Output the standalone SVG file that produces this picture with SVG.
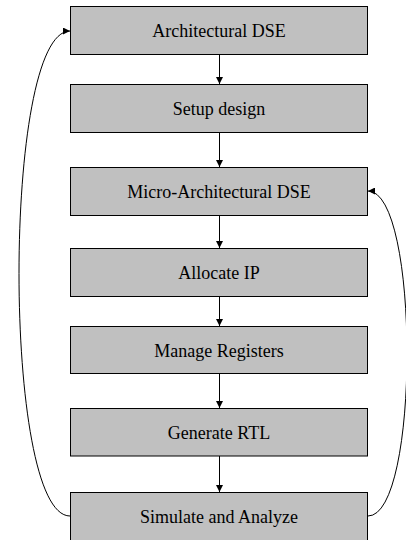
<svg xmlns="http://www.w3.org/2000/svg" width="406" height="540" viewBox="0 0 406 540">
<defs>
<style>
.box{fill:#c0c0c0;stroke:#000;stroke-width:1}
.lbl{font-family:"Liberation Serif","Times New Roman",serif;font-size:18px;fill:#000;text-anchor:middle}
.edge{fill:none;stroke:#000;stroke-width:1}
</style>
<marker id="ah" viewBox="0 0 10 10" refX="10" refY="5" markerWidth="7" markerHeight="7" markerUnits="userSpaceOnUse" orient="auto">
<path d="M0,0 L10,5 L0,10 Z" fill="#000"/>
</marker>
</defs>
<rect width="406" height="540" fill="#fff"/>
<g id="n1"><rect class="box" x="70.5" y="6.5" width="297" height="48"/><text class="lbl" x="219" y="37">Architectural DSE</text></g>
<g id="n2"><rect class="box" x="70.5" y="84.5" width="297" height="48"/><text class="lbl" x="219" y="115">Setup design</text></g>
<g id="n3"><rect class="box" x="70.5" y="167.5" width="297" height="48"/><text class="lbl" x="219" y="198">Micro-Architectural DSE</text></g>
<g id="n4"><rect class="box" x="70.5" y="248.5" width="297" height="48"/><text class="lbl" x="219" y="279">Allocate IP</text></g>
<g id="n5"><rect class="box" x="70.5" y="326.5" width="297" height="47"/><text class="lbl" x="219" y="357">Manage Registers</text></g>
<g id="n6"><rect class="box" x="70.5" y="408.5" width="297" height="47.5"/><text class="lbl" x="219" y="439">Generate RTL</text></g>
<g id="n7"><rect class="box" x="70.5" y="492.5" width="297" height="48"/><text class="lbl" x="219" y="523">Simulate and Analyze</text></g>
<g id="edges">
<line class="edge" x1="219.5" y1="55" x2="219.5" y2="84" marker-end="url(#ah)"/>
<line class="edge" x1="219.5" y1="133" x2="219.5" y2="167" marker-end="url(#ah)"/>
<line class="edge" x1="219.5" y1="216" x2="219.5" y2="248" marker-end="url(#ah)"/>
<line class="edge" x1="219.5" y1="297" x2="219.5" y2="326" marker-end="url(#ah)"/>
<line class="edge" x1="219.5" y1="374" x2="219.5" y2="408" marker-end="url(#ah)"/>
<line class="edge" x1="219.5" y1="456" x2="219.5" y2="492" marker-end="url(#ah)"/>
<path class="edge" d="M70,516 C2,516 2,31 70,31" marker-end="url(#ah)"/>
<path class="edge" d="M368,516 C420,516 420,191 368,191" marker-end="url(#ah)"/>
</g>
</svg>
